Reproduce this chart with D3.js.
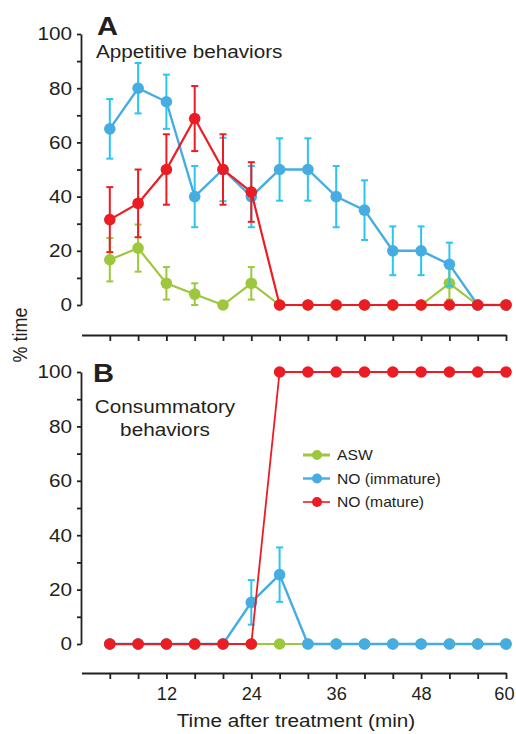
<!DOCTYPE html>
<html>
<head>
<meta charset="utf-8">
<script src="https://cdn.jsdelivr.net/npm/d3@7"></script>
<style>
  body { margin: 0; background: #fff; }
  svg { font-family: "Liberation Sans", Arial, Helvetica, sans-serif; }
</style>
</head>
<body>
<script>
// time points (min)
const times = [4, 8, 12, 16, 20, 24, 28, 32, 36, 40, 44, 48, 52, 56, 60];

// A: appetitive behaviors (% time, mean and error)
const appASW     = [16.7, 21, 8, 4, 0, 8, 0, 0, 0, 0, 0, 0, 8, 0, 0];
const appASWErr  = [8, 8.7, 6, 4, 0, 6, 0, 0, 0, 0, 0, 0, 6, 0, 0];
const appImm     = [65, 80, 75, 40, 50, 40, 50, 50, 40, 35, 20, 20, 15, 0, 0];
const appImmErr  = [11, 9.3, 10, 11.3, 11.7, 11.3, 11.5, 11.5, 11.3, 11, 9, 9, 8, 0, 0];
const appMat     = [31.5, 37.5, 50, 68.8, 50, 41.7, 0, 0, 0, 0, 0, 0, 0, 0, 0];
const appMatErr  = [12, 12.5, 13, 12, 13, 11, 0, 0, 0, 0, 0, 0, 0, 0, 0];

// B: consummatory behaviors
const conASW     = [0, 0, 0, 0, 0, 0, 0, 0, 0, 0, 0, 0, 0, 0, 0];
const conASWErr  = [0, 0, 0, 0, 0, 0, 0, 0, 0, 0, 0, 0, 0, 0, 0];
const conImm     = [0, 0, 0, 0, 0, 15.3, 25.5, 0, 0, 0, 0, 0, 0, 0, 0];
const conImmErr  = [0, 0, 0, 0, 0, 8.2, 10, 0, 0, 0, 0, 0, 0, 0, 0];
const conMat     = [0, 0, 0, 0, 0, 0, 100, 100, 100, 100, 100, 100, 100, 100, 100];
const conMatErr  = [0, 0, 0, 0, 0, 0, 0, 0, 0, 0, 0, 0, 0, 0, 0];

const yTicks = [0, 10, 20, 30, 40, 50, 60, 70, 80, 90, 100];
const xTickLabels = [12, 24, 36, 48, 60];
const groups = ["ASW", "NO (immature)", "NO (mature)"];

const colors = {
  "ASW": { line: "#9dc73c", err: "#9dc73c", w: 2.2, lw: 3 },
  "NO (immature)": { line: "#45ade1", err: "#2cc4f2", w: 2.4, lw: 2.4 },
  "NO (mature)": { line: "#ec1c24", err: "#ec1c24", w: 2.2, lw: 1.6 }
};

const W = 516, H = 734;
const ink = "#231f20";
const sx = 1.12; // text in the figure is a bit wide

const svg = d3.select("body").append("svg")
  .attr("width", W)
  .attr("height", H);

function label(x, y, txt, size, anchor, weight) {
  return svg.append("text")
    .attr("transform", `translate(${x},${y}) scale(${sx},1)`)
    .attr("text-anchor", anchor || "start")
    .attr("font-weight", weight || "normal")
    .attr("font-size", size)
    .attr("fill", ink)
    .text(txt);
}

const x = d3.scaleLinear().domain([0, 60]).range([81.5, 506]);

function panel(yTop, yBot, axisY, series, lineW, showLabels) {
  const y = d3.scaleLinear().domain([0, 100]).range([yBot, yTop]);

  const yAx = svg.append("g")
    .attr("transform", "translate(81,0)")
    .call(d3.axisLeft(y).tickValues(yTicks).tickSize(4).tickSizeOuter(0).tickPadding(4)
      .tickFormat(d => d % 20 === 0 ? d : ""));
  yAx.selectAll("path, line").attr("stroke", ink).attr("stroke-width", 1.8);
  yAx.selectAll("text").attr("font-size", 18.5).attr("fill", ink)
    .attr("transform", `scale(${sx},1)`)
    .attr("font-family", "Liberation Sans, Arial, sans-serif");

  const xAx = svg.append("g")
    .attr("transform", `translate(0,${axisY})`)
    .call(d3.axisBottom(x).tickValues(times).tickSize(6).tickSizeOuter(0).tickPadding(9)
      .tickFormat(d => showLabels && xTickLabels.includes(d) ? d : ""));
  xAx.selectAll("path, line").attr("stroke", ink).attr("stroke-width", 1.8);
  xAx.selectAll("text").attr("font-size", 17.5).attr("fill", ink)
    .attr("transform", "scale(1.04,1)")
    .attr("font-family", "Liberation Sans, Arial, sans-serif");
  xAx.selectAll(".tick").filter(d => d === 60).select("text").attr("x", -2);

  const line = d3.line().x(d => x(d.t)).y(d => y(d.v));

  series.forEach(s => {
    const c = colors[s.name];
    const pts = times.map((t, i) => ({ t, v: s.v[i], e: s.e[i] }));
    const g = svg.append("g");

    g.append("path")
      .datum(pts)
      .attr("d", line)
      .attr("fill", "none")
      .attr("stroke", c.line)
      .attr("stroke-width", s.name === "NO (mature)" ? lineW : c.w);

    const eb = g.append("g").selectAll("g")
      .data(pts.filter(d => d.e > 0))
      .join("g")
      .attr("stroke", c.err)
      .attr("stroke-width", 2);
    const top = d => y(Math.min(100, d.v + d.e));
    const bot = d => y(Math.max(0, d.v - d.e));
    eb.append("line")
      .attr("x1", d => x(d.t)).attr("x2", d => x(d.t))
      .attr("y1", top).attr("y2", bot);
    eb.append("line")
      .attr("x1", d => x(d.t) - 3.5).attr("x2", d => x(d.t) + 3.5)
      .attr("y1", top).attr("y2", top);
    eb.append("line")
      .attr("x1", d => x(d.t) - 3.5).attr("x2", d => x(d.t) + 3.5)
      .attr("y1", bot).attr("y2", bot);

    g.append("g").selectAll("circle")
      .data(pts)
      .join("circle")
      .attr("cx", d => x(d.t))
      .attr("cy", d => y(d.v))
      .attr("r", 5.8)
      .attr("fill", c.line);
  });
  return y;
}

panel(34, 305, 335, [
  { name: "ASW", v: appASW, e: appASWErr },
  { name: "NO (immature)", v: appImm, e: appImmErr },
  { name: "NO (mature)", v: appMat, e: appMatErr }
], 2.2, false);

panel(372, 644, 673, [
  { name: "ASW", v: conASW, e: conASWErr },
  { name: "NO (immature)", v: conImm, e: conImmErr },
  { name: "NO (mature)", v: conMat, e: conMatErr }
], 1.8, true);

// panel letters and titles
label(97, 34.5, "A", 26, "start", "bold");
label(93, 382, "B", 26, "start", "bold");

label(96, 58, "Appetitive behaviors", 18.5);
label(165, 413, "Consummatory", 18.5, "middle");
label(165, 436, "behaviors", 18.5, "middle");

// axis titles
label(296, 727, "Time after treatment (min)", 18.5, "middle");
svg.append("text").attr("transform", "translate(27,335) rotate(-90) scale(1,1.1)")
  .attr("text-anchor", "middle")
  .attr("font-size", 18).attr("fill", ink).text("% time");

// legend
const leg = svg.append("g").attr("transform", "translate(303,455)");
groups.forEach((name, i) => {
  const c = colors[name];
  const row = leg.append("g").attr("transform", `translate(0,${i * 23.5})`);
  row.append("line").attr("x1", 0).attr("x2", 27).attr("y1", 0).attr("y2", 0)
    .attr("stroke", c.line).attr("stroke-width", c.lw);
  row.append("circle").attr("cx", 14).attr("cy", 0).attr("r", 5).attr("fill", c.line);
  row.append("text").attr("transform", `translate(34,5) scale(${sx},1)`)
    .attr("font-size", 14).attr("fill", ink).text(name);
});
</script>
</body>
</html>
